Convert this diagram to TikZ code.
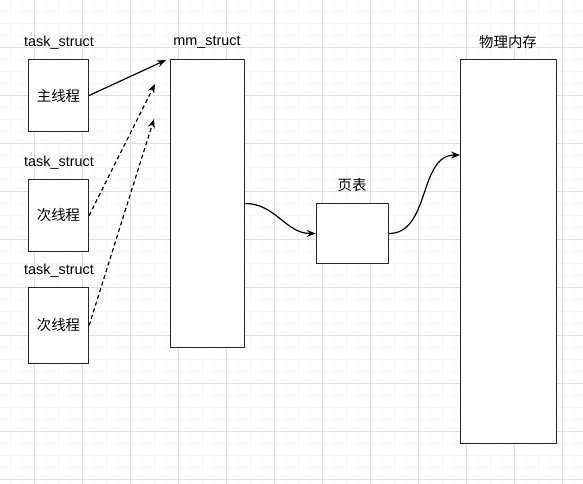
\documentclass[tikz,border=0pt]{standalone}
\usepackage{fontspec}
\setmainfont{Liberation Sans}
\newfontfamily\cjk{Noto Sans CJK SC}
\usetikzlibrary{arrows.meta}
\definecolor{gridmajor}{RGB}{222,222,222}
\definecolor{gridminor}{RGB}{247,247,247}
\begin{document}
\begin{tikzpicture}[x=1pt,y=-1pt,
    box/.style={draw=black!85,line width=1.2pt,fill=white,inner sep=0pt},
    lbl/.style={font=\fontsize{14.4}{17}\selectfont,inner sep=0pt},
    link/.style={line width=1.2pt,-{Stealth[length=9pt,width=7pt,inset=3pt]}},
    minorline/.style={gridminor,line width=1pt},
    majorline/.style={gridmajor,line width=1pt}]
    \useasboundingbox[fill=white] (0,0) rectangle (583,484);
    % background grid
    \foreach \k in {0,...,48} \draw[minorline] ({10.3+12*\k},0) -- ++(0,484);
    \foreach \k in {0,...,40} \draw[minorline] (0,{11.3+12*\k}) -- ++(583,0);
    \foreach \k in {0,...,11} \draw[majorline] ({34.3+48*\k},0) -- ++(0,484);
    \foreach \k in {0,...,9} \draw[majorline] (0,{47.3+48*\k}) -- ++(583,0);

    \coordinate (mmin1) at (166,60);
    \coordinate (mmin2) at (155,84);
    \coordinate (mmin3) at (154,119);
    \coordinate (memin) at (460,155);

    \node[box,minimum width=60pt,minimum height=72pt,font=\cjk\fontsize{14.4}{17}\selectfont] (main) at (58.5,95.5) {主线程};
    \node[box,minimum width=60pt,minimum height=72pt,font=\cjk\fontsize{14.4}{17}\selectfont] (sub1) at (58.5,215.5) {次线程};
    \node[box,minimum width=60pt,minimum height=76pt,font=\cjk\fontsize{14.4}{17}\selectfont] (sub2) at (58.5,325.5) {次线程};
    \node[box,minimum width=74.5pt,minimum height=288.5pt] (mm) at (207.5,203.5) {};
    \node[box,minimum width=72pt,minimum height=60.5pt] (pt) at (352.3,233.5) {};
    \node[box,minimum width=96pt,minimum height=384.5pt] (mem) at (508.3,251.5) {};

    \node[lbl] (l1) at (59,42.5) {task\_struct};
    \node[lbl] (l2) at (59,162.5) {task\_struct};
    \node[lbl] (l3) at (59,270.5) {task\_struct};
    \node[lbl] (lmm) at (207,42.5) {mm\_struct};
    \node[lbl,font=\cjk\fontsize{14.4}{17}\selectfont] (lpt) at (352,185.5) {页表};
    \node[lbl,font=\cjk\fontsize{14.4}{17}\selectfont] (lmem) at (508,42) {物理内存};

    \draw[link] (main.east) -- (mmin1);
    \draw[link,dash pattern=on 4pt off 3pt] (sub1.east) -- (mmin2);
    \draw[link,dash pattern=on 4pt off 3pt] (sub2.east) -- (mmin3);
    \draw[link] (mm.east) to[out=0,in=180] (pt.west);
    \draw[link] (pt.east) to[out=0,in=180] (memin);
  \end{tikzpicture}
\end{document}
